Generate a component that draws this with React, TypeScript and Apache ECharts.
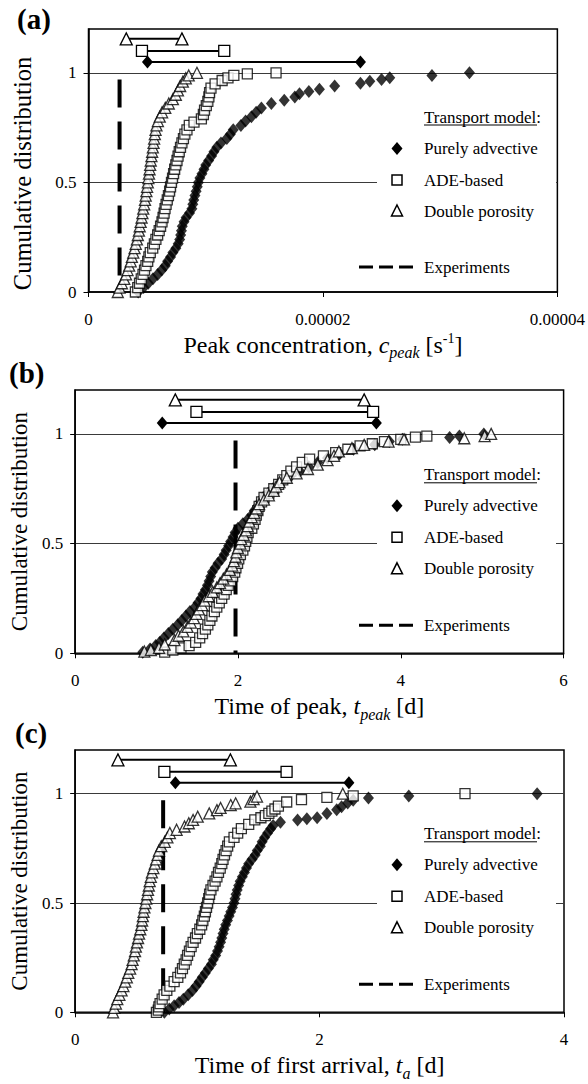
import React, { useEffect, useRef } from "react";
import * as echarts from "echarts";

type Pt = [number, number];

const FONT = '"Liberation Serif", "Times New Roman", Times, serif';

// ---------- (a) Peak concentration [1/s] ----------
const peakAdvective: Pt[] = [
  [0.424e-5, 0], [0.47e-5, 0.02], [0.51e-5, 0.04], [0.55e-5, 0.06], [0.59e-5, 0.08], [0.625e-5, 0.1],
  [0.655e-5, 0.12], [0.675e-5, 0.14], [0.7e-5, 0.16], [0.72e-5, 0.18], [0.745e-5, 0.2], [0.765e-5, 0.22],
  [0.778e-5, 0.24], [0.786e-5, 0.26], [0.793e-5, 0.28], [0.8e-5, 0.3], [0.815e-5, 0.32], [0.833e-5, 0.34],
  [0.862e-5, 0.36], [0.882e-5, 0.38], [0.89e-5, 0.4], [0.898e-5, 0.42], [0.908e-5, 0.44], [0.918e-5, 0.46],
  [0.928e-5, 0.48], [0.937e-5, 0.5], [0.95e-5, 0.52], [0.968e-5, 0.54], [0.985e-5, 0.56], [1.0e-5, 0.58],
  [1.025e-5, 0.6], [1.05e-5, 0.62], [1.07e-5, 0.64], [1.095e-5, 0.66], [1.13e-5, 0.68], [1.18e-5, 0.7],
  [1.21e-5, 0.72], [1.235e-5, 0.74], [1.3e-5, 0.76], [1.34e-5, 0.78], [1.39e-5, 0.8], [1.43e-5, 0.82],
  [1.475e-5, 0.84], [1.56e-5, 0.86], [1.67e-5, 0.875], [1.76e-5, 0.89], [1.8e-5, 0.905], [1.88e-5, 0.915],
  [1.97e-5, 0.925], [2.1e-5, 0.94], [2.32e-5, 0.953], [2.4e-5, 0.962], [2.5e-5, 0.97], [2.57e-5, 0.977],
  [2.93e-5, 0.988], [3.25e-5, 1.0],
];
const peakAde: Pt[] = [
  [0.4e-5, 0], [0.42e-5, 0.02], [0.435e-5, 0.04], [0.45e-5, 0.06], [0.465e-5, 0.08], [0.478e-5, 0.1],
  [0.49e-5, 0.12], [0.505e-5, 0.14], [0.515e-5, 0.16], [0.527e-5, 0.18], [0.548e-5, 0.2], [0.562e-5, 0.22],
  [0.575e-5, 0.24], [0.59e-5, 0.26], [0.603e-5, 0.28], [0.615e-5, 0.3], [0.627e-5, 0.32], [0.636e-5, 0.34],
  [0.645e-5, 0.36], [0.653e-5, 0.38], [0.662e-5, 0.4], [0.672e-5, 0.42], [0.682e-5, 0.44], [0.692e-5, 0.46],
  [0.7e-5, 0.48], [0.708e-5, 0.5], [0.717e-5, 0.52], [0.726e-5, 0.54], [0.735e-5, 0.56], [0.745e-5, 0.58],
  [0.755e-5, 0.6], [0.764e-5, 0.62], [0.774e-5, 0.64], [0.785e-5, 0.66], [0.797e-5, 0.68], [0.81e-5, 0.7],
  [0.822e-5, 0.72], [0.84e-5, 0.74], [0.86e-5, 0.76], [0.9e-5, 0.775], [0.963e-5, 0.79], [0.98e-5, 0.81],
  [0.99e-5, 0.83], [1.005e-5, 0.85], [1.018e-5, 0.87], [1.027e-5, 0.89], [1.033e-5, 0.91], [1.045e-5, 0.93],
  [1.08e-5, 0.95], [1.14e-5, 0.965], [1.19e-5, 0.977], [1.24e-5, 0.988], [1.355e-5, 0.995], [1.6e-5, 1.0],
];
const peakDouble: Pt[] = [
  [0.25e-5, 0], [0.265e-5, 0.02], [0.285e-5, 0.04], [0.305e-5, 0.06], [0.32e-5, 0.08], [0.333e-5, 0.1],
  [0.347e-5, 0.12], [0.36e-5, 0.14], [0.37e-5, 0.16], [0.382e-5, 0.18], [0.393e-5, 0.2], [0.403e-5, 0.22],
  [0.413e-5, 0.24], [0.421e-5, 0.26], [0.43e-5, 0.28], [0.437e-5, 0.3], [0.445e-5, 0.32], [0.453e-5, 0.34],
  [0.46e-5, 0.36], [0.467e-5, 0.38], [0.475e-5, 0.4], [0.482e-5, 0.42], [0.488e-5, 0.44], [0.494e-5, 0.46],
  [0.5e-5, 0.48], [0.506e-5, 0.5], [0.511e-5, 0.52], [0.516e-5, 0.54], [0.521e-5, 0.56], [0.526e-5, 0.58],
  [0.531e-5, 0.6], [0.537e-5, 0.62], [0.543e-5, 0.64], [0.549e-5, 0.66], [0.555e-5, 0.68], [0.56e-5, 0.7],
  [0.566e-5, 0.72], [0.572e-5, 0.74], [0.58e-5, 0.76], [0.592e-5, 0.78], [0.608e-5, 0.8], [0.628e-5, 0.82],
  [0.655e-5, 0.84], [0.685e-5, 0.86], [0.72e-5, 0.88], [0.745e-5, 0.9], [0.763e-5, 0.92], [0.782e-5, 0.94],
  [0.805e-5, 0.96], [0.83e-5, 0.975], [0.855e-5, 0.988], [0.925e-5, 1.0],
];
const peakRangeAdvective: Pt = [0.503e-5, 2.32e-5];
const peakRangeAde: Pt = [0.456e-5, 1.158e-5];
const peakRangeDouble: Pt = [0.322e-5, 0.797e-5];
const peakExperiment = 0.265e-5;

// ---------- (b) Time of peak [d] ----------
const timePeakAdvective: Pt[] = [
  [0.83, 0.005], [0.92, 0.02], [0.99, 0.035], [1.04, 0.05], [1.09, 0.07], [1.145, 0.09], [1.2, 0.11],
  [1.26, 0.13], [1.31, 0.15], [1.36, 0.17], [1.41, 0.19], [1.47, 0.21], [1.51, 0.23], [1.545, 0.25],
  [1.57, 0.27], [1.6, 0.29], [1.625, 0.31], [1.645, 0.33], [1.665, 0.35], [1.685, 0.37], [1.72, 0.39],
  [1.755, 0.41], [1.8, 0.43], [1.83, 0.45], [1.855, 0.47], [1.885, 0.49], [1.91, 0.51], [1.94, 0.53],
  [1.965, 0.55], [2.0, 0.57], [2.06, 0.59], [2.12, 0.61], [2.17, 0.63], [2.2, 0.65], [2.24, 0.67],
  [2.27, 0.69], [2.31, 0.71], [2.37, 0.73], [2.43, 0.75], [2.5, 0.77], [2.56, 0.79], [2.65, 0.81],
  [2.76, 0.83], [2.87, 0.85], [2.98, 0.87], [3.1, 0.89], [3.25, 0.91], [3.42, 0.93], [3.68, 0.95],
  [3.86, 0.965], [4.02, 0.975], [4.6, 0.983], [4.72, 0.99], [5.02, 1.0],
];
const timePeakAde: Pt[] = [
  [1.1, 0.005], [1.2, 0.015], [1.3, 0.025], [1.4, 0.035], [1.48, 0.05], [1.53, 0.07], [1.565, 0.09],
  [1.6, 0.11], [1.63, 0.13], [1.655, 0.15], [1.68, 0.17], [1.71, 0.19], [1.74, 0.21], [1.77, 0.23],
  [1.8, 0.25], [1.83, 0.27], [1.856, 0.29], [1.88, 0.31], [1.91, 0.33], [1.935, 0.35], [1.96, 0.37],
  [1.975, 0.39], [1.995, 0.41], [2.01, 0.43], [2.03, 0.45], [2.06, 0.47], [2.08, 0.49], [2.095, 0.51],
  [2.11, 0.53], [2.125, 0.55], [2.17, 0.57], [2.19, 0.59], [2.21, 0.61], [2.225, 0.63], [2.245, 0.65],
  [2.26, 0.67], [2.29, 0.69], [2.32, 0.71], [2.38, 0.73], [2.44, 0.75], [2.5, 0.77], [2.55, 0.79],
  [2.6, 0.81], [2.65, 0.83], [2.72, 0.85], [2.79, 0.87], [2.88, 0.885], [3.05, 0.9], [3.2, 0.915],
  [3.35, 0.93], [3.5, 0.945], [3.65, 0.955], [3.8, 0.965], [4.0, 0.975], [4.18, 0.985], [4.32, 0.99],
];
const timePeakDouble: Pt[] = [
  [0.85, 0.008], [0.93, 0.015], [1.03, 0.025], [1.1, 0.04], [1.22, 0.06], [1.27, 0.08], [1.33, 0.1],
  [1.38, 0.12], [1.42, 0.14], [1.46, 0.16], [1.49, 0.18], [1.52, 0.2], [1.56, 0.22], [1.59, 0.24],
  [1.64, 0.26], [1.69, 0.28], [1.74, 0.3], [1.78, 0.32], [1.82, 0.34], [1.86, 0.36], [1.9, 0.38],
  [1.93, 0.4], [1.95, 0.42], [1.97, 0.44], [1.98, 0.46], [2.0, 0.48], [2.03, 0.5], [2.04, 0.52],
  [2.07, 0.54], [2.1, 0.56], [2.12, 0.58], [2.14, 0.6], [2.17, 0.62], [2.2, 0.64], [2.23, 0.66],
  [2.26, 0.68], [2.32, 0.7], [2.38, 0.72], [2.44, 0.74], [2.47, 0.76], [2.51, 0.78], [2.6, 0.8],
  [2.72, 0.82], [2.86, 0.84], [2.98, 0.86], [3.1, 0.88], [3.18, 0.9], [3.24, 0.92], [3.4, 0.935],
  [3.55, 0.95], [3.85, 0.965], [4.04, 0.975], [4.78, 0.98], [5.03, 0.99], [5.11, 1.0],
];
const timePeakRangeAdvective: Pt = [1.07, 3.7];
const timePeakRangeAde: Pt = [1.49, 3.66];
const timePeakRangeDouble: Pt = [1.23, 3.55];
const timePeakExperiment = 1.97;

// ---------- (c) Time of first arrival [d] ----------
const arrivalAdvective: Pt[] = [
  [0.73, 0], [0.77, 0.015], [0.81, 0.03], [0.85, 0.045], [0.885, 0.06], [0.925, 0.08], [0.96, 0.1],
  [0.99, 0.12], [1.015, 0.14], [1.04, 0.16], [1.065, 0.18], [1.09, 0.2], [1.115, 0.22], [1.13, 0.24],
  [1.15, 0.26], [1.165, 0.28], [1.178, 0.3], [1.19, 0.32], [1.2, 0.34], [1.21, 0.36], [1.22, 0.38],
  [1.232, 0.4], [1.246, 0.42], [1.26, 0.44], [1.273, 0.46], [1.287, 0.48], [1.3, 0.5], [1.308, 0.52],
  [1.316, 0.54], [1.326, 0.56], [1.338, 0.58], [1.35, 0.6], [1.368, 0.62], [1.385, 0.64], [1.402, 0.66],
  [1.42, 0.68], [1.447, 0.7], [1.473, 0.72], [1.49, 0.74], [1.515, 0.76], [1.53, 0.78], [1.55, 0.8],
  [1.575, 0.82], [1.6, 0.84], [1.62, 0.855], [1.68, 0.87], [1.82, 0.88], [1.896, 0.885], [1.98, 0.89],
  [2.06, 0.91], [2.14, 0.927], [2.18, 0.94], [2.23, 0.957], [2.275, 0.97], [2.4, 0.98], [2.73, 0.99],
  [3.78, 1.0],
];
const arrivalAde: Pt[] = [
  [0.665, 0], [0.68, 0.01], [0.685, 0.025], [0.695, 0.04], [0.712, 0.06], [0.728, 0.08], [0.75, 0.1],
  [0.775, 0.12], [0.81, 0.14], [0.84, 0.16], [0.862, 0.18], [0.878, 0.2], [0.893, 0.22], [0.908, 0.24],
  [0.92, 0.26], [0.935, 0.28], [0.949, 0.3], [0.965, 0.32], [0.985, 0.34], [1.0, 0.36], [1.02, 0.38],
  [1.035, 0.4], [1.045, 0.42], [1.057, 0.44], [1.066, 0.46], [1.075, 0.48], [1.084, 0.5], [1.093, 0.52],
  [1.1, 0.54], [1.111, 0.56], [1.128, 0.58], [1.145, 0.6], [1.16, 0.62], [1.173, 0.64], [1.187, 0.66],
  [1.2, 0.68], [1.21, 0.7], [1.222, 0.72], [1.235, 0.74], [1.248, 0.76], [1.262, 0.78], [1.3, 0.8],
  [1.33, 0.82], [1.36, 0.84], [1.42, 0.86], [1.47, 0.88], [1.52, 0.89], [1.556, 0.9], [1.585, 0.91],
  [1.61, 0.92], [1.635, 0.93], [1.663, 0.943], [1.731, 0.962], [1.852, 0.973], [2.06, 0.983],
  [2.275, 0.99], [3.19, 1.0],
];
const arrivalDouble: Pt[] = [
  [0.31, 0], [0.32, 0.02], [0.333, 0.04], [0.345, 0.06], [0.362, 0.08], [0.38, 0.1], [0.395, 0.12],
  [0.41, 0.14], [0.423, 0.16], [0.435, 0.18], [0.45, 0.2], [0.462, 0.22], [0.47, 0.24], [0.48, 0.26],
  [0.49, 0.28], [0.497, 0.3], [0.506, 0.32], [0.515, 0.34], [0.523, 0.36], [0.533, 0.38], [0.542, 0.4],
  [0.548, 0.42], [0.554, 0.44], [0.56, 0.46], [0.567, 0.48], [0.575, 0.5], [0.582, 0.52], [0.589, 0.54],
  [0.596, 0.56], [0.603, 0.58], [0.61, 0.6], [0.619, 0.62], [0.628, 0.64], [0.64, 0.66], [0.652, 0.68],
  [0.663, 0.7], [0.675, 0.72], [0.686, 0.74], [0.705, 0.76], [0.733, 0.78], [0.755, 0.8], [0.775, 0.82],
  [0.83, 0.835], [0.895, 0.85], [0.93, 0.865], [0.965, 0.88], [1.003, 0.895], [1.097, 0.91], [1.16, 0.925],
  [1.19, 0.935], [1.273, 0.948], [1.313, 0.956], [1.434, 0.964], [1.46, 0.975], [1.488, 0.987], [2.19, 1.0],
];
const arrivalRangeAdvective: Pt = [0.82, 2.24];
const arrivalRangeAde: Pt = [0.73, 1.73];
const arrivalRangeDouble: Pt = [0.35, 1.27];
const arrivalExperiment = 0.72;

// Levels of the 5%-95% range bars above the curves, and top of the experiment marker line
const rangeLevelAdvective = 1.05;
const rangeLevelAde = 1.1;
const rangeLevelDouble = 1.155;
const experimentTop = 0.97;

const yTicks = [0, 0.5, 1];
const legendTitle = "Transport model";
const legendNames = ["Purely advective", "ADE-based", "Double porosity", "Experiments"];

type Panel = {
  label: string;
  labelX: number;
  labelY: number;
  grid: { left: number; top: number; width: number; height: number };
  xMax: number;
  xInterval: number;
  xFormat: (v: number) => string;
  xName: string;
  xNameGap: number;
  yNameGap: number;
  yNameSize: number;
  yNameShift: number;
  advective: Pt[];
  ade: Pt[];
  double: Pt[];
  rangeAdvective: Pt;
  rangeAde: Pt;
  rangeDouble: Pt;
  experiment: number;
  legendRows: number[]; // distances above the x axis: title, three models, experiments
};

const panels: Panel[] = [
  {
    label: "(a)",
    labelX: 17,
    labelY: 19,
    grid: { left: 88.5, top: 29, width: 470, height: 263 },
    xMax: 4e-5,
    xInterval: 2e-5,
    xFormat: (v) => (v === 0 ? "0" : v.toFixed(5)),
    xName: "{m|Peak concentration, }{i|c}{s|peak}{m| [s}{p|-1}{m|]}",
    xNameGap: 35,
    yNameGap: 54,
    yNameSize: 24.5,
    yNameShift: 26,
    advective: peakAdvective,
    ade: peakAde,
    double: peakDouble,
    rangeAdvective: peakRangeAdvective,
    rangeAde: peakRangeAde,
    rangeDouble: peakRangeDouble,
    experiment: peakExperiment,
    legendRows: [175, 143.5, 112, 81, 25],
  },
  {
    label: "(b)",
    labelX: 9,
    labelY: 373,
    grid: { left: 68.6, top: 390, width: 495, height: 263.3 },
    xMax: 6,
    xInterval: 2,
    xFormat: (v) => String(v),
    xName: "{m|Time of peak, }{i|t}{s|peak}{m| [d]}",
    xNameGap: 31,
    yNameGap: 38,
    yNameSize: 23,
    yNameShift: 0,
    advective: timePeakAdvective,
    ade: timePeakAde,
    double: timePeakDouble,
    rangeAdvective: timePeakRangeAdvective,
    rangeAde: timePeakRangeAde,
    rangeDouble: timePeakRangeDouble,
    experiment: timePeakExperiment,
    legendRows: [178.5, 147.5, 116, 84.5, 28],
  },
  {
    label: "(c)",
    labelX: 15,
    labelY: 733,
    grid: { left: 69.4, top: 750, width: 494.6, height: 262.3 },
    xMax: 4,
    xInterval: 2,
    xFormat: (v) => String(v),
    xName: "{m|Time of first arrival, }{i|t}{s|a}{m| [d]}",
    xNameGap: 38,
    yNameGap: 38,
    yNameSize: 23,
    yNameShift: 0,
    advective: arrivalAdvective,
    ade: arrivalAde,
    double: arrivalDouble,
    rangeAdvective: arrivalRangeAdvective,
    rangeAde: arrivalRangeAde,
    rangeDouble: arrivalRangeDouble,
    experiment: arrivalExperiment,
    legendRows: [178.5, 147.5, 116, 84.5, 28],
  },
];

const nameRich = {
  m: { fontFamily: FONT, fontSize: 24, color: "#000", lineHeight: 28 },
  i: { fontFamily: FONT, fontSize: 24, fontStyle: "italic", color: "#000", lineHeight: 28 },
  s: { fontFamily: FONT, fontSize: 16, fontStyle: "italic", color: "#000", lineHeight: 16, padding: [16, 0, 0, 0] },
  p: { fontFamily: FONT, fontSize: 14, color: "#000", lineHeight: 14, padding: [0, 0, 12, 0] },
};

const hollow = { color: "#fff", borderColor: "#000", borderWidth: 1.3 };
const solid = { color: "#000" };

function buildLegend(p: Panel): any[] {
  const bottom = p.grid.top + p.grid.height;
  const [rTitle, rAdv, rAde, rDouble, rExp] = p.legendRows.map((d) => bottom - d);
  const sx = 397;
  const tx = 424;
  const textStyle = (text: string, y: number) => ({
    type: "text",
    z: 6,
    x: tx,
    y,
    style: { text, fontFamily: FONT, fontSize: 17, fill: "#000", align: "left", verticalAlign: "middle" },
  });
  return [
    {
      type: "rect",
      z: 4,
      shape: { x: 377, y: rTitle - 16, width: 179, height: rExp - rTitle + 34 },
      style: { fill: "#fff" },
    },
    textStyle(legendTitle + ":", rTitle),
    {
      type: "line",
      z: 6,
      shape: { x1: tx, y1: rTitle + 8, x2: tx + 113, y2: rTitle + 8 },
      style: { stroke: "#000", lineWidth: 1 },
    },
    {
      type: "polygon",
      z: 6,
      shape: { points: [[sx, rAdv - 6.5], [sx + 5.5, rAdv], [sx, rAdv + 6.5], [sx - 5.5, rAdv]] },
      style: { fill: "#000" },
    },
    textStyle(legendNames[0], rAdv),
    {
      type: "rect",
      z: 6,
      shape: { x: sx - 5, y: rAde - 5, width: 10, height: 10 },
      style: { fill: "#fff", stroke: "#000", lineWidth: 1.5 },
    },
    textStyle(legendNames[1], rAde),
    {
      type: "polygon",
      z: 6,
      shape: { points: [[sx, rDouble - 6], [sx + 5.5, rDouble + 5], [sx - 5.5, rDouble + 5]] },
      style: { fill: "#fff", stroke: "#000", lineWidth: 1.5 },
    },
    textStyle(legendNames[2], rDouble),
    {
      type: "line",
      z: 6,
      shape: { x1: 359, y1: rExp, x2: 413, y2: rExp },
      style: { stroke: "#000", lineWidth: 3, lineDash: [14, 6] },
    },
    textStyle(legendNames[3], rExp),
  ];
}

function buildOption() {
  const grid = panels.map((p) => ({
    ...p.grid,
    show: true,
    borderColor: "#000",
    borderWidth: 1.5,
    backgroundColor: "transparent",
  }));

  const xAxis = panels.map((p, i) => ({
    type: "value",
    gridIndex: i,
    min: 0,
    max: p.xMax,
    interval: p.xInterval,
    axisLine: { show: true, onZero: false, lineStyle: { color: "#000", width: 1.5 } },
    axisTick: { show: true, inside: false, length: 5, lineStyle: { color: "#000", width: 1 } },
    axisLabel: { margin: 19, fontFamily: FONT, fontSize: 17, color: "#000", formatter: p.xFormat },
    splitLine: { show: false },
    name: p.xName,
    nameLocation: "middle",
    nameGap: p.xNameGap,
    nameTextStyle: { fontFamily: FONT, fontSize: 24, color: "#000", rich: nameRich },
  }));

  const yAxis = panels.map((p, i) => ({
    type: "value",
    gridIndex: i,
    min: 0,
    max: 1.2,
    interval: 0.5,
    axisLine: { show: true, onZero: false, lineStyle: { color: "#000", width: 1.5 } },
    axisTick: { show: true, inside: false, length: 5, customValues: yTicks, lineStyle: { color: "#000", width: 1 } },
    axisLabel: {
      margin: 12,
      fontFamily: FONT,
      fontSize: 17,
      color: "#000",
      customValues: yTicks,
      formatter: (v: number) => (yTicks.indexOf(v) >= 0 ? String(v) : ""),
    },
    splitLine: { show: true, lineStyle: { color: "#3a3a3a", width: 1 } },
    name: "Cumulative distribution",
    nameLocation: "middle",
    nameGap: p.yNameGap,
    nameTextStyle: {
      fontFamily: FONT,
      fontSize: p.yNameSize,
      color: "#000",
      padding: [0, p.yNameShift, 0, 0],
    },
  }));

  const series: any[] = [];
  panels.forEach((p, i) => {
    const axes = { xAxisIndex: i, yAxisIndex: i };
    series.push({
      ...axes,
      type: "line",
      name: legendNames[3],
      data: [[p.experiment, experimentTop], [p.experiment, 0]],
      symbol: "none",
      lineStyle: { color: "#000", width: 4, type: [28, 14] },
      silent: true,
      z: 1,
    });
    series.push({
      ...axes,
      type: "scatter",
      name: legendNames[0],
      data: p.advective,
      symbol: "diamond",
      symbolSize: [11, 13],
      itemStyle: solid,
      z: 2,
    });
    series.push({
      ...axes,
      type: "scatter",
      name: legendNames[1],
      data: p.ade,
      symbol: "rect",
      symbolSize: 10,
      itemStyle: hollow,
      z: 3,
    });
    series.push({
      ...axes,
      type: "scatter",
      name: legendNames[2],
      data: p.double,
      symbol: "triangle",
      symbolSize: 11,
      itemStyle: hollow,
      z: 4,
    });
    const ranges: [Pt, number, string, any, any][] = [
      [p.rangeAdvective, rangeLevelAdvective, "diamond", [11, 13], solid],
      [p.rangeAde, rangeLevelAde, "rect", 11, hollow],
      [p.rangeDouble, rangeLevelDouble, "triangle", 12, hollow],
    ];
    ranges.forEach(([r, level, symbol, size, style]) => {
      series.push({
        ...axes,
        type: "line",
        data: [[r[0], level], [r[1], level]],
        symbol,
        symbolSize: size,
        showSymbol: true,
        lineStyle: { color: "#000", width: 2 },
        itemStyle: style,
        silent: true,
        z: 5,
      });
    });
  });

  const graphic: any[] = [];
  panels.forEach((p) => {
    graphic.push({
      type: "text",
      z: 6,
      x: p.labelX,
      y: p.labelY,
      style: { text: p.label, fontFamily: FONT, fontSize: 29, fontWeight: "bold", fill: "#000", align: "left", verticalAlign: "middle" },
    });
    graphic.push(...buildLegend(p));
  });

  return {
    animation: false,
    backgroundColor: "#fff",
    grid,
    xAxis,
    yAxis,
    series,
    graphic,
  };
}

export default function App() {
  const ref = useRef<HTMLDivElement>(null);
  useEffect(() => {
    document.body.style.margin = "0";
    if (!ref.current) return;
    const chart = echarts.init(ref.current, undefined, { renderer: "svg" });
    chart.setOption(buildOption() as any);
    return () => chart.dispose();
  }, []);
  return (
    <div
      ref={ref}
      style={{ position: "absolute", left: 0, top: 0, width: 588, height: 1084, background: "#fff" }}
    />
  );
}
